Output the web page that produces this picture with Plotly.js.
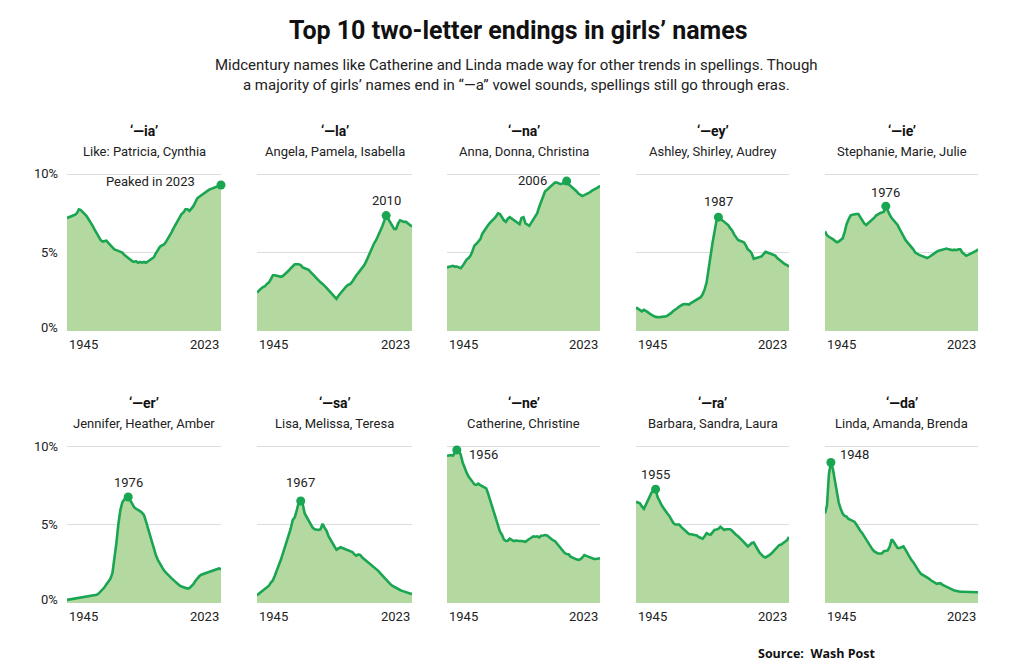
<!DOCTYPE html>
<html><head><meta charset="utf-8">
<script src="https://cdn.plot.ly/plotly-3.0.1.min.js"></script>
<style>html,body{margin:0;padding:0;background:#fff}#chart{width:1009px;height:669px}</style>
</head><body><div id="chart"></div>
<script>
const years = [1945,1946,1947,1948,1949,1950,1951,1952,1953,1954,
1955,1956,1957,1958,1959,1960,1961,1962,1963,1964,
1965,1966,1967,1968,1969,1970,1971,1972,1973,1974,
1975,1976,1977,1978,1979,1980,1981,1982,1983,1984,
1985,1986,1987,1988,1989,1990,1991,1992,1993,1994,
1995,1996,1997,1998,1999,2000,2001,2002,2003,2004,
2005,2006,2007,2008,2009,2010,2011,2012,2013,2014,
2015,2016,2017,2018,2019,2020,2021,2022,2023];

const endings = ['‘—ia’','‘—la’','‘—na’','‘—ey’','‘—ie’','‘—er’','‘—sa’','‘—ne’','‘—ra’','‘—da’'];
const examples = ['Like: Patricia, Cynthia','Angela, Pamela, Isabella','Anna, Donna, Christina','Ashley, Shirley, Audrey','Stephanie, Marie, Julie',
  'Jennifer, Heather, Amber','Lisa, Melissa, Teresa','Catherine, Christine','Barbara, Sandra, Laura','Linda, Amanda, Brenda'];

const ia = [7.2,7.25,7.3,7.3,7.4,7.5,7.75,7.7,7.6,7.45,
7.3,7.1,6.95,6.7,6.45,6.2,5.95,5.8,5.7,5.75,
5.75,5.6,5.45,5.3,5.2,5.15,5.1,5.05,5.0,4.85,
4.75,4.6,4.5,4.45,4.4,4.45,4.35,4.4,4.35,4.4,
4.35,4.45,4.5,4.6,4.7,4.95,5.2,5.35,5.45,5.5,
5.65,5.85,6.1,6.3,6.55,6.8,7.05,7.25,7.45,7.55,
7.75,7.75,7.65,7.8,7.95,8.2,8.45,8.55,8.65,8.75,
8.8,8.9,9.0,9.05,9.1,9.15,9.15,9.2,9.3];
const la = [2.45,2.6,2.7,2.8,2.85,3.0,3.1,3.3,3.55,3.55,
3.5,3.45,3.45,3.5,3.6,3.7,3.85,4.0,4.15,4.25,
4.25,4.25,4.2,4.05,4.0,3.95,3.9,3.75,3.65,3.5,
3.35,3.2,3.1,3.0,2.9,2.75,2.6,2.45,2.3,2.15,
2.05,2.25,2.4,2.6,2.75,2.85,2.95,3.0,3.15,3.4,
3.55,3.7,3.85,4.0,4.2,4.45,4.75,5.05,5.4,5.6,
5.8,6.05,6.35,6.65,7.0,7.35,7.15,6.9,6.7,6.5,
6.5,6.85,7.05,7.0,6.95,6.95,6.85,6.75,6.65];
const na = [4.05,4.1,4.1,4.15,4.1,4.1,4.05,4.0,4.15,4.4,
4.55,4.65,4.8,5.1,5.45,5.55,5.7,5.85,6.2,6.4,
6.6,6.75,6.9,7.0,7.15,7.3,7.5,7.45,7.2,7.05,
6.95,7.15,7.25,7.15,7.05,6.95,6.85,6.8,7.2,7.25,
6.85,6.75,6.7,6.9,7.1,7.3,7.5,7.9,8.25,8.6,
8.9,9.0,9.1,9.25,9.35,9.45,9.45,9.4,9.35,9.4,
9.5,9.55,9.35,9.25,9.1,9.05,8.9,8.75,8.65,8.6,
8.65,8.7,8.8,8.85,8.95,9.0,9.05,9.15,9.25];
const ey = [1.5,1.4,1.3,1.25,1.35,1.3,1.2,1.1,1.0,0.95,
0.9,0.88,0.88,0.9,0.9,0.92,0.98,1.05,1.15,1.28,
1.35,1.45,1.55,1.65,1.7,1.72,1.7,1.68,1.78,1.86,
1.92,1.97,2.05,2.15,2.35,2.65,3.1,4.0,4.9,5.6,
6.3,7.0,7.25,7.1,7.05,6.95,6.85,6.75,6.55,6.4,
6.15,5.95,5.8,5.75,5.7,5.65,5.45,5.2,5.1,4.95,
4.6,4.65,4.7,4.72,4.75,4.9,5.05,5.0,4.95,4.9,
4.85,4.8,4.65,4.55,4.45,4.3,4.25,4.2,4.1];
const ie = [6.35,6.1,6.0,5.95,5.85,5.75,5.65,5.7,5.8,5.9,
6.3,6.8,7.1,7.35,7.4,7.45,7.45,7.45,7.25,7.05,
6.85,6.75,6.85,6.95,7.1,7.2,7.35,7.45,7.5,7.55,
7.6,7.95,7.65,7.4,7.2,7.05,6.95,6.75,6.5,6.3,
6.05,5.8,5.65,5.5,5.4,5.2,5.0,4.9,4.85,4.8,
4.75,4.7,4.65,4.7,4.8,4.88,4.95,5.05,5.12,5.15,
5.15,5.2,5.25,5.2,5.15,5.15,5.18,5.15,5.2,5.2,
5.0,4.9,4.8,4.85,4.9,4.95,5.0,5.1,5.2];
const er = [0.2,0.22,0.25,0.27,0.3,0.32,0.34,0.35,0.37,0.38,
0.4,0.41,0.42,0.45,0.48,0.52,0.6,0.72,0.85,1.0,
1.2,1.38,1.55,1.9,2.7,3.8,5.0,5.9,6.4,6.6,
6.7,6.75,6.55,6.3,6.1,6.0,5.95,5.85,5.75,5.6,
5.2,4.75,4.35,3.95,3.5,3.05,2.75,2.5,2.3,2.1,
1.95,1.85,1.7,1.57,1.45,1.32,1.22,1.12,1.05,1.0,
0.95,0.92,0.95,1.05,1.2,1.4,1.57,1.7,1.8,1.85,
1.9,1.95,2.0,2.05,2.1,2.15,2.2,2.2,2.15];
const sa = [0.5,0.6,0.68,0.8,0.9,1.0,1.1,1.3,1.45,1.75,
2.05,2.4,2.75,3.15,3.55,3.95,4.3,4.75,5.3,5.45,
5.9,6.4,6.5,6.3,5.7,5.45,5.25,5.05,4.8,4.7,
4.65,4.65,4.7,5.05,4.8,4.6,4.25,4.0,3.8,3.6,
3.4,3.45,3.55,3.5,3.45,3.4,3.35,3.3,3.25,3.1,
3.02,3.1,3.05,2.9,2.8,2.7,2.55,2.45,2.35,2.25,
2.15,2.05,1.9,1.75,1.62,1.5,1.35,1.22,1.1,1.02,
0.95,0.9,0.83,0.77,0.72,0.66,0.62,0.6,0.58];
const ne = [9.38,9.42,9.42,9.38,9.6,9.75,9.68,9.45,8.95,8.6,
8.3,8.05,7.9,7.7,7.55,7.52,7.6,7.5,7.42,7.35,
7.3,6.95,6.55,6.2,5.75,5.3,4.85,4.55,4.35,4.05,
3.95,3.97,4.1,4.05,3.95,3.98,3.95,3.95,3.95,3.92,
3.9,4.0,4.1,4.2,4.25,4.22,4.25,4.18,4.28,4.3,
4.33,4.3,4.2,4.08,4.0,3.95,3.8,3.65,3.45,3.3,
3.18,3.12,3.1,2.95,2.88,2.8,2.78,2.74,2.78,2.9,
3.05,3.0,2.95,2.88,2.85,2.8,2.8,2.82,2.85];
const ra = [6.45,6.4,6.35,6.15,6.0,6.25,6.55,6.8,7.05,7.15,
7.25,6.75,6.45,6.25,6.05,5.85,5.7,5.55,5.35,5.1,
5.0,5.02,5.0,4.85,4.75,4.6,4.5,4.4,4.38,4.35,
4.3,4.3,4.2,4.15,4.1,4.25,4.45,4.38,4.35,4.5,
4.65,4.68,4.72,4.85,4.75,4.65,4.7,4.72,4.7,4.6,
4.45,4.35,4.25,4.15,4.0,3.88,3.75,3.6,3.7,3.82,
3.85,3.6,3.4,3.2,3.08,2.95,2.9,2.95,3.05,3.15,
3.3,3.4,3.55,3.68,3.72,3.8,3.88,4.0,4.2];
const da = [5.7,6.2,8.2,8.95,8.55,7.8,7.1,6.4,6.0,5.7,
5.55,5.5,5.35,5.28,5.25,5.18,5.0,4.75,4.6,4.45,
4.25,4.0,3.8,3.6,3.45,3.3,3.2,3.15,3.15,3.15,
3.3,3.35,3.35,3.6,4.05,3.9,3.65,3.5,3.5,3.55,
3.6,3.4,3.15,2.95,2.75,2.6,2.4,2.15,2.0,1.85,
1.78,1.72,1.65,1.55,1.45,1.36,1.3,1.22,1.25,1.25,
1.15,1.08,1.04,0.98,0.9,0.85,0.8,0.76,0.74,0.72,
0.72,0.72,0.72,0.71,0.7,0.7,0.69,0.68,0.68];

const peakYears = [2023,2010,2006,1987,1976,1976,1967,1950,1955,1948];
const peakLabels = ['Peaked in 2023','2010','2006','1987','1976','1976','1967','1956','1955','1948'];
const yTickVals = [0,5,10];
const yTickText = ['0%','5%','10%'];
const yearLabels = ['1945','2023'];

const series = [ia,la,na,ey,ie,er,sa,ne,ra,da];

// ---- layout / style ----
const W = 1009, H = 669;
const LINE = '#1aa552', FILL = '#b4d9a0', GRID = '#dcdcdc', TXT = '#222';
const FONT = 'Roboto, Arial, sans-serif';
const cols = [[67,221],[257,412],[447,600],[636,789],[825,978]];
const rows = [{base:331, title:130.5, sub:151.5}, {base:603, title:403, sub:423.5}];
const YMAX = 10.5, PXU = 15.7;
// label placement: [xanchor, yanchor, xshift, yshift]
const place = [
  ['right','middle',-24,3], ['center','middle',0,15], ['right','middle',-18,1],
  ['center','middle',0,16], ['center','middle',0,14], ['center','middle',0,15],
  ['center','middle',0,18], ['left','middle',10,-5], ['center','middle',0,15],
  ['left','middle',7,8]
];

const px = v => v / W, py = v => 1 - v / H;
const data = [], annotations = [];
const layout = {
  width: W, height: H, margin: {l:0,r:0,t:0,b:0},
  paper_bgcolor:'#fff', plot_bgcolor:'#fff', showlegend:false,
  font:{family:FONT, color:TXT, size:13}, annotations, hovermode:false
};

series.forEach((vals, i) => {
  const r = Math.floor(i/5), c = i % 5, n = i === 0 ? '' : String(i+1);
  const row = rows[r], col = cols[c];
  const top = row.base - YMAX * PXU;
  layout['xaxis'+n] = {domain:[px(col[0]), px(col[1])], range:[1945,2023], anchor:'y'+n,
    showgrid:false, zeroline:false, showticklabels:false, ticks:'', showline:false, fixedrange:true};
  layout['yaxis'+n] = {domain:[py(row.base), py(top)], range:[0,YMAX], anchor:'x'+n,
    tickvals:yTickVals, showticklabels:false, ticks:'', showgrid:true, gridcolor:GRID, gridwidth:1,
    zeroline:false, showline:false, fixedrange:true};
  data.push({x:years, y:vals, type:'scatter', mode:'lines', fill:'tozeroy', fillcolor:FILL,
    line:{color:LINE, width:2.6}, xaxis:'x'+n, yaxis:'y'+n, hoverinfo:'skip'});
  const pk = vals[years.indexOf(peakYears[i])];
  data.push({x:[peakYears[i]], y:[pk], type:'scatter', mode:'markers', cliponaxis:false,
    marker:{color:LINE, size:9}, xaxis:'x'+n, yaxis:'y'+n, hoverinfo:'skip'});
  const p = place[i];
  annotations.push({xref:'x'+n, yref:'y'+n, x:peakYears[i], y:pk, text:peakLabels[i], showarrow:false,
    xanchor:p[0], yanchor:p[1], xshift:p[2], yshift:p[3], font:{size:13, color:TXT}});
  const cx = (col[0]+col[1])/2;
  annotations.push({xref:'paper', yref:'paper', x:px(cx), y:py(row.title), text:'<b>'+endings[i]+'</b>',
    showarrow:false, xanchor:'center', yanchor:'middle', font:{size:14, color:'#111'}});
  annotations.push({xref:'paper', yref:'paper', x:px(cx), y:py(row.sub), text:examples[i],
    showarrow:false, xanchor:'center', yanchor:'middle', font:{size:13, color:TXT}});
  annotations.push({xref:'x'+n, yref:'y'+n, x:1945, y:0, text:yearLabels[0], showarrow:false,
    xanchor:'left', yanchor:'top', yshift:-4, font:{size:13, color:TXT}});
  annotations.push({xref:'x'+n, yref:'y'+n, x:2023, y:0, text:yearLabels[1], showarrow:false,
    xanchor:'right', yanchor:'top', yshift:-4, font:{size:13, color:TXT}});
  if (c === 0) {
    yTickVals.forEach((v, k) => annotations.push({xref:'paper', yref:'y'+n, x:px(60), y:v,
      text:yTickText[k], showarrow:false, xanchor:'right', yanchor:'middle', yshift: v === 0 ? 4 : 0,
      font:{size:13, color:TXT}}));
  }
});

annotations.push({xref:'paper', yref:'paper', x:px(518), y:py(30), text:'<b>Top 10 two-letter endings in girls’ names</b>',
  showarrow:false, xanchor:'center', yanchor:'middle', font:{size:25, color:'#111'}});
annotations.push({xref:'paper', yref:'paper', x:px(516), y:py(75), showarrow:false, xanchor:'center', yanchor:'middle',
  text:'Midcentury names like Catherine and Linda made way for other trends in spellings. Though<br>a majority of girls’ names end in “—a” vowel sounds, spellings still go through eras.',
  font:{size:15, color:TXT}});
annotations.push({xref:'paper', yref:'paper', x:px(877), y:py(653), showarrow:false, xanchor:'right', yanchor:'middle',
  text:'<b>Source:  Wash Post</b>', font:{size:12.5, color:'#111', family:'Open Sans, Arial, sans-serif'}});

Plotly.newPlot('chart', data, layout, {displayModeBar:false, staticPlot:true});
</script></body></html>
